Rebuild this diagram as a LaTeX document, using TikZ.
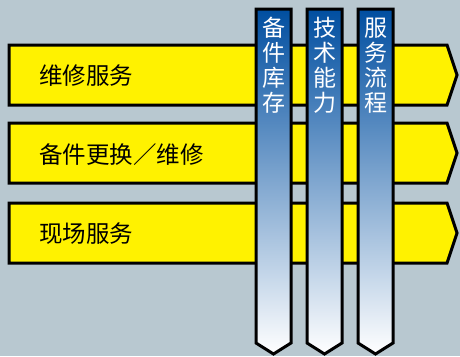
\documentclass[tikz,border=0pt]{standalone}
\usepackage{fontspec}
\newfontfamily\cjk{Noto Sans CJK SC}
\definecolor{bg}{RGB}{184,200,208}
\definecolor{yel}{RGB}{255,242,0}
\definecolor{dblue}{RGB}{0,78,160}
\definecolor{mblue}{RGB}{132,152,206}
\begin{document}
\begin{tikzpicture}[x=1pt,y=-1pt,
  arrowband/.style={fill=yel,draw=black,line width=3pt,line join=miter},
  bar/.style={draw=black,line width=3pt,line join=miter,top color=dblue,middle color=mblue,bottom color=white},
  rowlabel/.style={anchor=west,inner sep=0pt,font=\cjk\fontsize{23.5}{24}\selectfont,text=black},
  barlabel/.style={align=center,inner sep=0pt,font=\cjk\fontsize{23}{25}\selectfont,text=white}]
\fill[bg] (0,0) rectangle (460,356);
\useasboundingbox (0,0) rectangle (460,356);
% horizontal arrows
\foreach \t in {45,123,203}{
  \draw[arrowband] (9,\t) -- (447,\t) -- (457,\t+30) -- (447,\t+60) -- (9,\t+60) -- cycle;
}
\node[rowlabel] (r1) at (39,76) {维修服务};
\node[rowlabel] (r2) at (39,155) {备件更换／维修};
\node[rowlabel] (r3) at (39,234) {现场服务};
% vertical bars
\foreach \l in {256,307,358}{
  \draw[bar] (\l,9) -- (\l+35,9) -- (\l+35,343) -- (\l+17.5,354) -- (\l,343) -- cycle;
}
\node[barlabel] (b1) at (273.5,65.5) {备\\件\\库\\存};
\node[barlabel] (b2) at (324.5,65.5) {技\\术\\能\\力};
\node[barlabel] (b3) at (375.5,65.5) {服\\务\\流\\程};
\end{tikzpicture}
\end{document}
